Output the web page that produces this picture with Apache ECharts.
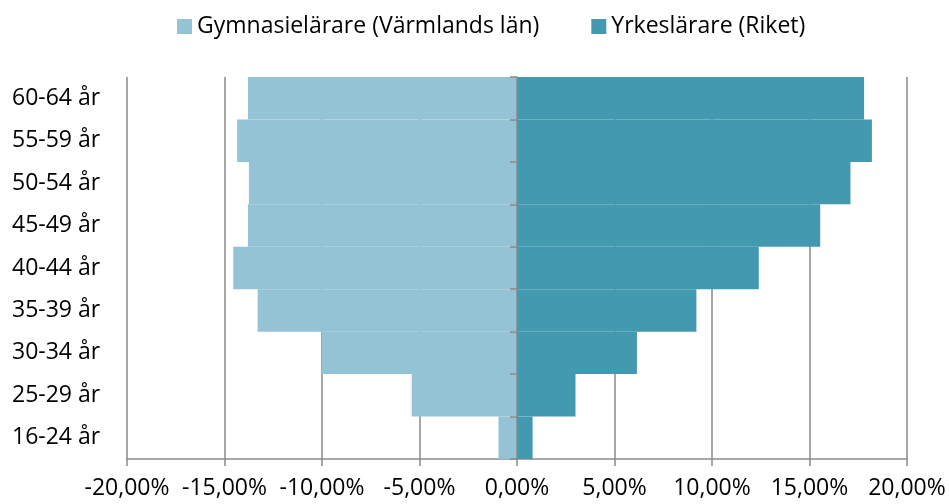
<!DOCTYPE html>
<html>
<head>
<meta charset="utf-8">
<script src="https://cdn.jsdelivr.net/npm/echarts@6/dist/echarts.min.js"></script>
<style>
  html, body { margin: 0; padding: 0; background: #fff; }
  #main { width: 949px; height: 504px; }
</style>
</head>
<body>
<div id="main"></div>
<script>
// åldersgrupper, nerifrån och upp
var categories = ['16-24 år', '25-29 år', '30-34 år', '35-39 år', '40-44 år', '45-49 år', '50-54 år', '55-59 år', '60-64 år'];
// andel i procent, vänster sida negativ
var gymnasie = [-0.95, -5.4, -10.0, -13.3, -14.55, -13.8, -13.75, -14.35, -13.8];
var yrkes = [0.8, 3.0, 6.15, 9.2, 12.4, 15.55, 17.1, 18.2, 17.8];
var seriesNames = ['Gymnasielärare (Värmlands län)', 'Yrkeslärare (Riket)'];

var chart = echarts.init(document.getElementById('main'));
var font = '"Open Sans", sans-serif';
var grey = '#8a8a8a';

var option = {
  animation: false,
  color: ['#93c3d5', '#4399af'],
  legend: {
    top: 10,
    left: 172,
    itemWidth: 15,
    itemHeight: 15,
    itemGap: 52,
    icon: 'rect',
    textStyle: { fontFamily: font, fontSize: 23, color: '#000' },
    data: seriesNames
  },
  grid: { left: 127, right: 42, top: 77, bottom: 45 },
  xAxis: {
    type: 'value',
    min: -20,
    max: 20,
    interval: 5,
    axisLine: { show: true, lineStyle: { color: grey, width: 1.5 } },
    axisTick: { show: true, length: 7, lineStyle: { color: grey, width: 1.5 } },
    splitLine: { show: true, lineStyle: { color: grey, width: 1.5 } },
    axisLabel: {
      margin: 18,
      fontFamily: font,
      fontSize: 23,
      color: '#000',
      formatter: function (v) { return v.toFixed(2).replace('.', ',') + '%'; }
    }
  },
  yAxis: [{
    type: 'category',
    data: categories,
    axisLine: { show: false, onZero: false },
    axisTick: { show: false },
    axisLabel: {
      align: 'left',
      margin: 115,
      fontFamily: font,
      fontSize: 23,
      color: '#000'
    }
  }, {
    type: 'category',
    data: categories,
    position: 'right',
    z: 5,
    axisLine: { show: true, onZero: true, lineStyle: { color: grey, width: 1.5 } },
    axisTick: { show: true, inside: true, length: 7, lineStyle: { color: grey, width: 1.5 } },
    axisLabel: { show: false }
  }],
  series: [{
    name: seriesNames[0],
    type: 'bar',
    data: gymnasie,
    barGap: '-100%',
    barCategoryGap: '0%'
  }, {
    name: seriesNames[1],
    type: 'bar',
    data: yrkes,
    barGap: '-100%',
    barCategoryGap: '0%'
  }]
};
chart.setOption(option);
</script>
</body>
</html>
